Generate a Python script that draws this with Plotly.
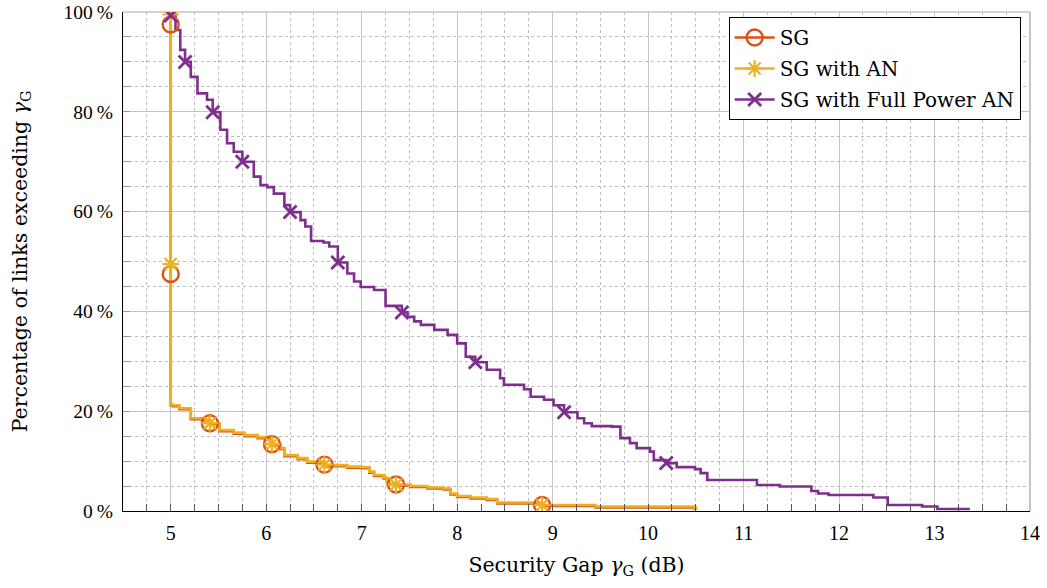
import plotly.graph_objects as go

# ---------------- data ----------------
# SG with Full Power AN (step CCDF, x in dB, y in %)
fp_x = [5.00, 5.00, 5.05, 5.10, 5.15, 5.21, 5.28, 5.38, 5.44, 5.52, 5.59, 5.66, 5.75, 5.87, 5.94,
        6.01, 6.08, 6.19, 6.25, 6.36, 6.41, 6.47, 6.60, 6.66, 6.75, 6.85, 6.92, 6.99, 7.13, 7.25,
        7.42, 7.48, 7.55, 7.62, 7.76, 7.90, 8.00, 8.09, 8.19, 8.31, 8.45, 8.49, 8.70, 8.77, 8.91,
        9.01, 9.12, 9.26, 9.33, 9.41, 9.62, 9.71, 9.81, 9.88, 10.02, 10.06, 10.19, 10.30, 10.49,
        10.55, 10.62, 11.14, 11.38, 11.71, 11.78, 11.89, 12.36, 12.51, 12.87, 13.03, 13.37]
fp_y = [100.0, 99.5, 96.4, 92.4, 90.0, 87.0, 83.7, 82.4, 79.9, 76.4, 73.7, 72.0, 70.0, 67.0, 65.3,
        64.9, 63.6, 61.3, 59.9, 58.3, 57.0, 54.1, 53.8, 53.0, 49.8, 47.6, 46.0, 44.9, 44.3, 41.1,
        39.8, 38.9, 38.0, 37.3, 36.3, 35.3, 33.6, 30.9, 29.8, 28.3, 26.6, 25.3, 24.4, 22.9, 22.3,
        21.2, 19.8, 18.6, 17.6, 17.0, 16.9, 14.6, 13.6, 12.6, 11.9, 10.2, 9.6, 8.8, 8.4,
        7.6, 6.2, 5.2, 4.9, 4.0, 3.5, 3.2, 2.7, 1.2, 0.9, 0.4, 0.4]
fp_mark_x = [5.00, 5.15, 5.44, 5.75, 6.25, 6.75, 7.42, 8.19, 9.12, 10.19]
fp_mark_y = [99.3, 90.0, 79.9, 70.0, 59.9, 49.8, 39.8, 29.8, 19.8, 9.6]

# SG with AN
an_x = [5.00, 5.00, 5.02, 5.09, 5.21, 5.33, 5.41, 5.51, 5.66, 5.77, 5.91, 6.06, 6.15, 6.19, 6.33,
        6.43, 6.61, 6.85, 6.99, 7.08, 7.13, 7.23, 7.27, 7.36, 7.51, 7.69, 7.86, 7.93, 8.00, 8.14,
        8.31, 8.42, 8.89, 9.45, 10.48, 10.50]
an_y = [100.0, 21.4, 21.2, 20.6, 18.6, 18.4, 17.6, 16.2, 15.7, 15.2, 14.8, 13.4, 12.6, 11.2, 10.6,
        9.9, 9.2, 8.9, 8.8, 7.9, 7.2, 6.7, 5.5, 5.3, 5.0, 4.7, 4.5, 3.5, 3.0, 2.7,
        2.4, 1.7, 1.2, 0.9, 0.7, 0.3]
an_mark_x = [5.00, 5.00, 5.41, 6.06, 6.61, 7.36, 8.89]
an_mark_y = [99.5, 49.5, 17.6, 13.4, 9.3, 5.3, 1.2]

# SG
sg_x = [5.00, 5.00, 5.02, 5.09, 5.21, 5.33, 5.41, 5.51, 5.66, 5.77, 5.91, 6.06, 6.15, 6.19, 6.33,
        6.43, 6.61, 6.85, 6.99, 7.08, 7.13, 7.23, 7.27, 7.36, 7.51, 7.69, 7.86, 7.93, 8.00, 8.14,
        8.31, 8.42, 8.89, 9.45, 10.48, 10.50]
sg_y = [98.0, 21.2, 21.0, 20.4, 18.4, 18.2, 17.4, 16.0, 15.5, 15.0, 14.6, 13.2, 12.4, 11.0, 10.4,
        9.7, 9.0, 8.7, 8.6, 7.7, 7.0, 6.5, 5.3, 5.1, 4.8, 4.5, 4.3, 3.3, 2.8, 2.5,
        2.2, 1.5, 1.0, 0.7, 0.5, 0.2]
sg_mark_x = [5.00, 5.00, 5.41, 6.06, 6.61, 7.36, 8.89]
sg_mark_y = [97.5, 47.5, 17.6, 13.4, 9.3, 5.3, 1.2]

y_ticks = [0, 20, 40, 60, 80, 100]
y_labels = ["0\u2009%", "20\u2009%", "40\u2009%", "60\u2009%", "80\u2009%", "100\u2009%"]
x_ticks = [5, 6, 7, 8, 9, 10, 11, 12, 13, 14]

# ---------------- style ----------------
C_SG = "#D95319"
C_AN = "#EDB120"
C_FP = "#7E2F8E"
TICKFONT = "Liberation Serif"
TEXTFONT = "DejaVu Serif"
LW = 2.6


def gapped(xs, ys):
    gx, gy = [], []
    for a, b in zip(xs, ys):
        gx += [a, None]
        gy += [b, None]
    return gx, gy


fig = go.Figure()

series = [
    ("SG", sg_x, sg_y, sg_mark_x, sg_mark_y, C_SG, "circle-open", 16, 2.4),
    ("SG with AN", an_x, an_y, an_mark_x, an_mark_y, C_AN, "asterisk-open", 14, 2.2),
    ("SG with Full Power AN", fp_x, fp_y, fp_mark_x, fp_mark_y, C_FP, "x-thin-open", 13, 2.8),
]

for name, xs, ys, mx, my, col, sym, ms, mlw in series:
    fig.add_trace(go.Scatter(
        x=xs, y=ys, mode="lines", line=dict(color=col, width=LW, shape="hv"),
        showlegend=False, legendgroup=name, hoverinfo="skip"))
for name, xs, ys, mx, my, col, sym, ms, mlw in series:
    gx, gy = gapped(mx, my)
    fig.add_trace(go.Scatter(
        x=gx, y=gy, mode="lines+markers", name=name, legendgroup=name,
        connectgaps=False,
        line=dict(color=col, width=LW),
        marker=dict(symbol=sym, size=ms, color=col, line=dict(color=col, width=mlw))))

grid_major = "#c4c4c4"
grid_minor = "#bcbcbc"

fig.update_xaxes(
    range=[4.5, 14], tickmode="array", tickvals=x_ticks, automargin=False,
    showgrid=True, gridcolor=grid_major, gridwidth=1,
    ticks="inside", ticklen=7, tickcolor="#555555", tickwidth=1,
    showline=True, linecolor="black", linewidth=1.3,
    minor=dict(dtick=0.25, tick0=4.5, showgrid=True, gridcolor=grid_minor, griddash="dot",
               gridwidth=1, ticks="inside", ticklen=7, tickcolor="#555555"),
    zeroline=False, ticklabelstandoff=4,
    tickfont=dict(family=TICKFONT, size=20, color="black"),
    title=dict(text="Security Gap <i>γ</i><sub>G</sub> (dB)",
               font=dict(family=TEXTFONT, size=20.5, color="black"), standoff=14),
)
fig.update_yaxes(
    range=[0, 100], tickmode="array", tickvals=y_ticks, ticktext=y_labels, automargin=False,
    showgrid=True, gridcolor=grid_major, gridwidth=1,
    ticks="inside", ticklen=7, tickcolor="#999999", tickwidth=1,
    showline=True, linecolor="black", linewidth=1.3,
    minor=dict(dtick=5, showgrid=True, gridcolor=grid_minor, griddash="dot",
               gridwidth=1, ticks="inside", ticklen=7, tickcolor="#999999"),
    zeroline=False, ticklabelstandoff=5,
    tickfont=dict(family=TICKFONT, size=19.5, color="black"),
    title=dict(text="Percentage of links exceeding <i>γ</i><sub>G</sub>",
               font=dict(family=TEXTFONT, size=20.5, color="black"), standoff=30),
)

# top and right frame (light gray, like the edge grid lines)
fig.add_shape(type="line", xref="paper", yref="paper", x0=0, x1=1, y0=1, y1=1,
              line=dict(color="#c4c4c4", width=1.5), layer="below")
fig.add_shape(type="line", xref="paper", yref="paper", x0=1, x1=1, y0=0, y1=1,
              line=dict(color="#b0b0b0", width=1.5), layer="below")

fig.update_layout(
    width=1047, height=588,
    margin=dict(l=123, r=17, t=12, b=77, autoexpand=False),
    plot_bgcolor="white", paper_bgcolor="white",
    font=dict(family=TEXTFONT, size=19, color="black"),
    legend=dict(x=0.9897, y=0.99, xanchor="right", yanchor="top",
                bgcolor="white", bordercolor="black", borderwidth=1,
                font=dict(family=TEXTFONT, size=20, color="black"),
                itemwidth=40, tracegroupgap=2),
)

fig.write_html("out.html")
